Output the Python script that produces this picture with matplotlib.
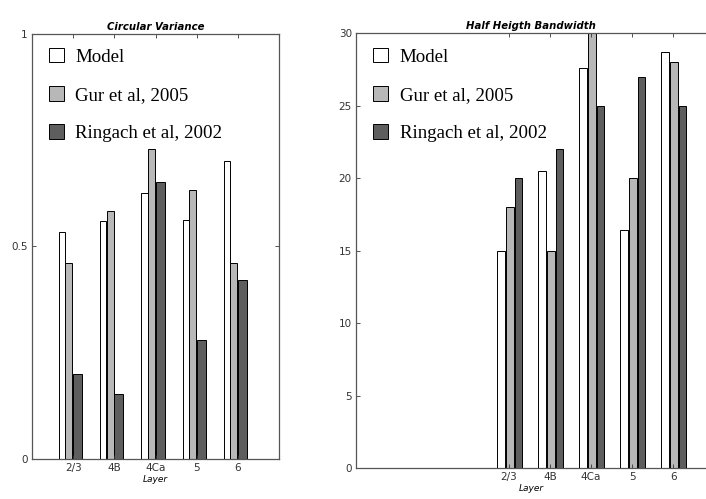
import matplotlib.pyplot as plt
import numpy as np

layers = ['2/3', '4B', '4Ca', '5', '6']
series = ['Model', 'Gur et al, 2005', 'Ringach et al, 2002']
colors = ['white', '#b8b8b8', '#5e5e5e']

# Circular Variance
cv_model = [0.535, 0.56, 0.625, 0.563, 0.70]
cv_gur = [0.462, 0.584, 0.73, 0.633, 0.462]
cv_ringach = [0.20, 0.152, 0.652, 0.28, 0.421]

# Half Heigth Bandwidth
hb_model = [15.0, 20.5, 27.6, 16.4, 28.7]
hb_gur = [18.0, 15.0, 30.5, 20.0, 28.0]
hb_ringach = [20.0, 22.0, 25.0, 27.0, 25.0]

x = np.arange(1, len(layers) + 1)

fig = plt.figure(figsize=(7.06, 4.99), dpi=100)
ax1 = fig.add_axes([0.0453, 0.0802, 0.350, 0.852])
ax2 = fig.add_axes([0.5043, 0.0615, 0.4957, 0.872])


def stile(ax, title, anchor):
    ax.set_title(title, fontsize=7.3, fontstyle='italic', fontweight='bold', pad=3)
    ax.set_xticks(x)
    ax.set_xticklabels(layers)
    ax.set_xlabel('Layer', fontsize=6.5, fontstyle='italic', labelpad=1)
    ax.tick_params(direction='in', length=3, width=0.6, labelsize=7.5,
                   colors='#333333', top=True, right=True, pad=3)
    for s in ax.spines.values():
        s.set_linewidth(0.9)
        s.set_color('#555555')
    ax.legend(loc='upper left', frameon=False, prop={'family': 'Liberation Serif', 'size': 13.6},
              handlelength=0.8, handleheight=0.8, handletextpad=0.6,
              labelspacing=1.08, borderaxespad=0, borderpad=0, bbox_to_anchor=anchor)


vals1 = [cv_model, cv_gur, cv_ringach]
off1 = [-0.27, -0.105, 0.11]
w1 = [0.15, 0.17, 0.22]
for v, o, w, c, n in zip(vals1, off1, w1, colors, series):
    ax1.bar(x + o, v, width=w, color=c, edgecolor='black', linewidth=0.7, label=n)
ax1.set_xlim(0, 6)
ax1.set_ylim(0, 1)
ax1.set_yticks([0, 0.5, 1])
ax1.set_yticklabels(['0', '0.5', '1'])
stile(ax1, 'Circular Variance', (0.069, 0.967))

vals2 = [hb_model, hb_gur, hb_ringach]
off2 = [-0.2, 0.02, 0.23]
for v, o, c, n in zip(vals2, off2, colors, series):
    ax2.bar(x + o, v, width=0.18, color=c, edgecolor='black', linewidth=0.7, label=n)
ax2.set_xlim(-2.73, 5.8)
ax2.set_ylim(0, 30)
ax2.set_yticks(np.arange(0, 31, 5))
ax2.spines['right'].set_visible(False)
stile(ax2, 'Half Heigth Bandwidth', (0.049, 0.966))
ax2.tick_params(right=False)

fig.savefig('out.png', dpi=100)
plt.close(fig)
